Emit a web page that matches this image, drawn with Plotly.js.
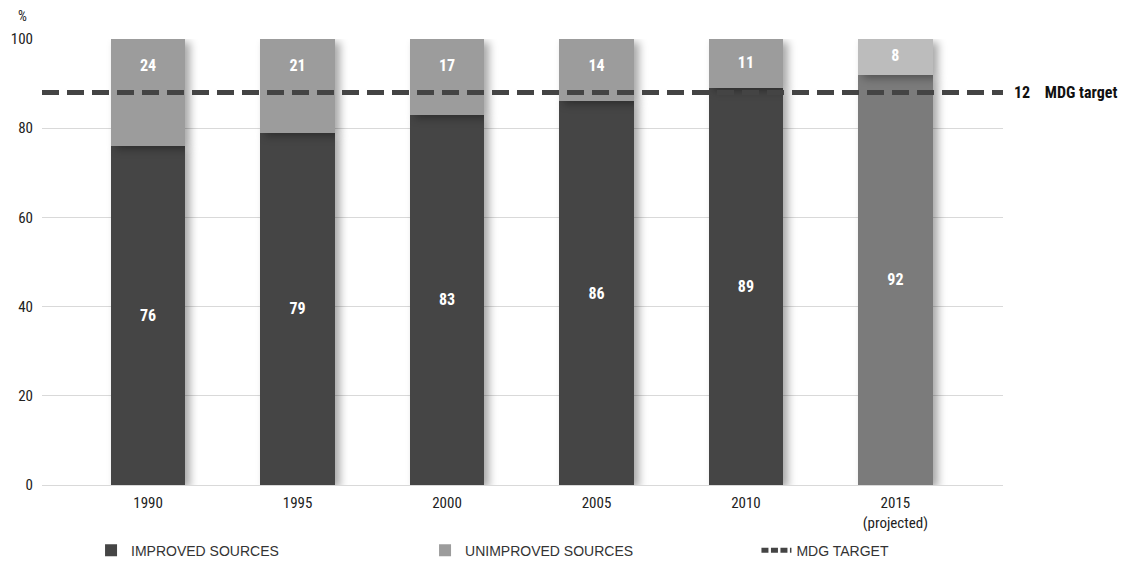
<!DOCTYPE html>
<html>
<head>
<meta charset="utf-8">
<script src="https://cdn.plot.ly/plotly-3.0.1.min.js"></script>
<style>
  html, body { margin: 0; padding: 0; background: #fff; }
  #chart { width: 1124px; height: 562px; }
  /* soft shadow behind each stacked column */
  #chart .barlayer .trace path { filter: drop-shadow(5px 3px 4px rgba(0,0,0,0.35)); }
</style>
</head>
<body>
<div id="chart"></div>
<script>
// Share of population using drinking water sources, %
const years = ['1990', '1995', '2000', '2005', '2010', '2015<br>(projected)'];
const improved = [76, 79, 83, 86, 89, 92];
const unimproved = [24, 21, 17, 14, 11, 8];
const mdgTarget = 88;
const mdgGap = 12;

const improvedColors = ['#454545', '#454545', '#454545', '#454545', '#454545', '#7b7b7b'];
const unimprovedColors = ['#9c9c9c', '#9c9c9c', '#9c9c9c', '#9c9c9c', '#9c9c9c', '#bcbcbc'];

const idx = years.map((_, i) => i);
const narrow = '"Noto Sans Condensed", "Liberation Sans Narrow", "Roboto Condensed", Roboto, sans-serif';
const legendFont = { family: 'Liberation Sans, Arial, sans-serif', size: 14, color: '#333333' };

const improvedTrace = {
  type: 'bar', name: 'IMPROVED SOURCES', legend: 'legend',
  x: idx, y: improved,
  marker: { color: improvedColors, line: { width: 0 } },
  width: 0.5,
  text: improved.map(String),
  textposition: 'inside', insidetextanchor: 'middle',
  textfont: { family: narrow, size: 16, color: '#ffffff', weight: 'bold' },
  hoverinfo: 'skip'
};

const unimprovedTrace = {
  type: 'bar', name: 'UNIMPROVED SOURCES', legend: 'legend',
  x: idx, y: unimproved,
  marker: { color: unimprovedColors, line: { width: 0 } },
  width: 0.5,
  textposition: 'none',
  hoverinfo: 'skip'
};

// labels for the upper segments, kept a little below the column top
const unimprovedLabels = {
  type: 'scatter', mode: 'text', showlegend: false,
  x: idx,
  y: idx.map(i => Math.max(improved[i] + unimproved[i] / 2, 93.7)),
  text: unimproved.map(String),
  textfont: { family: narrow, size: 16, color: '#ffffff', weight: 'bold' },
  hoverinfo: 'skip'
};

const targetLine = {
  type: 'scatter', mode: 'lines', name: 'MDG TARGET', legend: 'legend2',
  x: [-0.71, 5.77], y: [mdgTarget, mdgTarget],
  line: { color: '#444444', width: 5, dash: '17px,8px' },
  cliponaxis: false,
  hoverinfo: 'skip'
};

const layout = {
  width: 1124, height: 562,
  margin: { l: 42, r: 121, t: 39, b: 77, autoexpand: false },
  paper_bgcolor: '#ffffff', plot_bgcolor: '#ffffff',
  barmode: 'stack',
  showlegend: true,
  font: { family: narrow, size: 15, color: '#222222' },
  xaxis: {
    range: [-0.71, 5.72], automargin: false,
    tickmode: 'array', tickvals: idx, ticktext: years,
    showgrid: false, zeroline: false, showline: false,
    ticks: '', ticklabelstandoff: 7,
    tickfont: { family: narrow, size: 15, color: '#222222' }
  },
  yaxis: {
    range: [0, 100], dtick: 20, automargin: false,
    showgrid: true, gridcolor: '#d9d9d9', gridwidth: 1,
    zeroline: true, zerolinecolor: '#d9d9d9', zerolinewidth: 1,
    showline: false, ticks: '', ticklabelstandoff: 8,
    tickfont: { family: narrow, size: 15, color: '#222222' }
  },
  legend: {
    orientation: 'h', xref: 'container', yref: 'container',
    x: 0.081, xanchor: 'left', y: 0.02, yanchor: 'middle',
    entrywidth: 289, entrywidthmode: 'pixels',
    font: legendFont, traceorder: 'normal'
  },
  legend2: {
    orientation: 'h', xref: 'container', yref: 'container',
    x: 0.673, xanchor: 'left', y: 0.02, yanchor: 'middle',
    font: legendFont
  },
  annotations: [
    {
      xref: 'paper', yref: 'paper', x: -0.014, y: 1.03,
      xanchor: 'right', yanchor: 'bottom', showarrow: false,
      text: '%', font: { family: narrow, size: 14, color: '#222222' }
    },
    {
      xref: 'paper', yref: 'y', x: 1.009, y: mdgTarget,
      xanchor: 'left', yanchor: 'middle', showarrow: false,
      text: '<b>' + mdgGap + '</b>&nbsp;&nbsp;&nbsp;&nbsp;<b>MDG target</b>',
      font: { family: narrow, size: 16, color: '#111111' }
    }
  ]
};

Plotly.newPlot('chart', [improvedTrace, unimprovedTrace, unimprovedLabels, targetLine], layout,
  { displayModeBar: false, staticPlot: true }).then(gd => {
  // shorter dashes for the small legend swatch of the target line
  gd.querySelectorAll('.legend2 .legendlines path').forEach(p => {
    p.style.strokeDasharray = '7px,2.5px';
  });
});
</script>
</body>
</html>
